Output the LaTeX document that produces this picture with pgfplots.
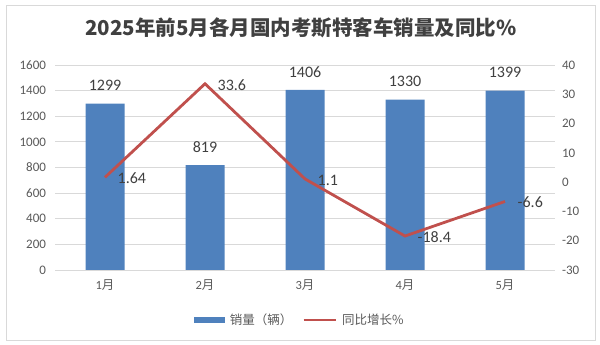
\documentclass[border=0pt]{standalone}
\usepackage{fontspec}
\setmainfont{Carlito}
\newfontfamily\cjk{Noto Sans CJK SC}
\usepackage{pgfplots}
\pgfplotsset{compat=1.18}
\definecolor{barblue}{RGB}{79,129,189}
\definecolor{linered}{RGB}{192,80,77}
\definecolor{gridgray}{RGB}{217,217,217}
\definecolor{ticktext}{RGB}{89,89,89}
\definecolor{labeltext}{RGB}{64,64,64}
\begin{document}
\begin{tikzpicture}[x=1pt,y=1pt]
\path[use as bounding box] (0,0) rectangle (600,345);
\draw[gridgray, line width=0.8pt] (6,5) rectangle (595,340);
\node[font=\cjk\bfseries\fontsize{20.5}{24}\selectfont, text=labeltext] at (301,317) {2025年前5月各月国内考斯特客车销量及同比\%};
\begin{axis}[
  at={(55pt,75pt)}, anchor=south west, scale only axis,
  width=500pt, height=205pt,
  xmin=-0.5, xmax=4.5, ymin=0, ymax=1600,
  xtick={0,1,2,3,4},
  xticklabels={{1\cjk 月},{2\cjk 月},{3\cjk 月},{4\cjk 月},{5\cjk 月}},
  ytick={0,200,...,1600},
  axis line style={draw=none},
  major tick length=0pt,
  ymajorgrids, grid style={gridgray, line width=0.8pt},
  /pgf/number format/assume math mode=true,
  /pgf/number format/1000 sep={},
  yticklabel style={text=ticktext, font=\fontsize{13}{15}\selectfont, xshift=-5.5pt},
  xticklabel style={text=ticktext, font=\fontsize{12.5}{15}\selectfont, yshift=-6pt},
  clip=false,
]
\addplot[ybar, bar width=39pt, fill=barblue, draw=none,
  nodes near coords,
  nodes near coords style={font=\fontsize{16}{19}\selectfont, text=labeltext, anchor=center, yshift=18pt}]
  coordinates {(0,1299) (1,819) (2,1406) (3,1330) (4,1399)};
\end{axis}
\begin{axis}[
  at={(55pt,75pt)}, anchor=south west, scale only axis,
  width=500pt, height=205pt,
  xmin=-0.5, xmax=4.5, ymin=-30, ymax=40,
  xtick=\empty,
  ytick={-30,-20,...,40},
  yticklabel pos=right,
  axis line style={draw=none},
  major tick length=0pt,
  /pgf/number format/assume math mode=true,
  yticklabel style={text=ticktext, font=\fontsize{13}{15}\selectfont, xshift=3.5pt},
  clip=false,
  legend columns=2,
  legend style={at={(0.49,-0.244)}, anchor=center, draw=none, fill=none,
    font=\cjk\fontsize{12.5}{15}\selectfont, text=ticktext,
    /tikz/every even column/.append style={column sep=8pt}},
  legend cell align=left,
]
\addlegendimage{legend image code/.code={\fill[barblue] (0pt,-2.5pt) rectangle (30pt,2.5pt);}}
\addlegendentry{\hspace{3pt}销量（辆）}
\addplot[linered, line width=2.8pt,
  legend image code/.code={\draw[linered,line width=2.8pt] (0pt,0pt) -- (32pt,0pt);},
  point meta=explicit symbolic,
  nodes near coords,
  nodes near coords style={font=\fontsize{16}{19}\selectfont, text=labeltext, anchor=west, xshift=8pt, yshift=-1pt}]
  coordinates {(0,1.64) [1.64] (1,33.6) [33.6] (2,1.1) [1.1] (3,-18.4) [-18.4] (4,-6.6) [-6.6]};
\addlegendentry{\hspace{3pt}同比增长\%}
\end{axis}
\end{tikzpicture}
\end{document}
